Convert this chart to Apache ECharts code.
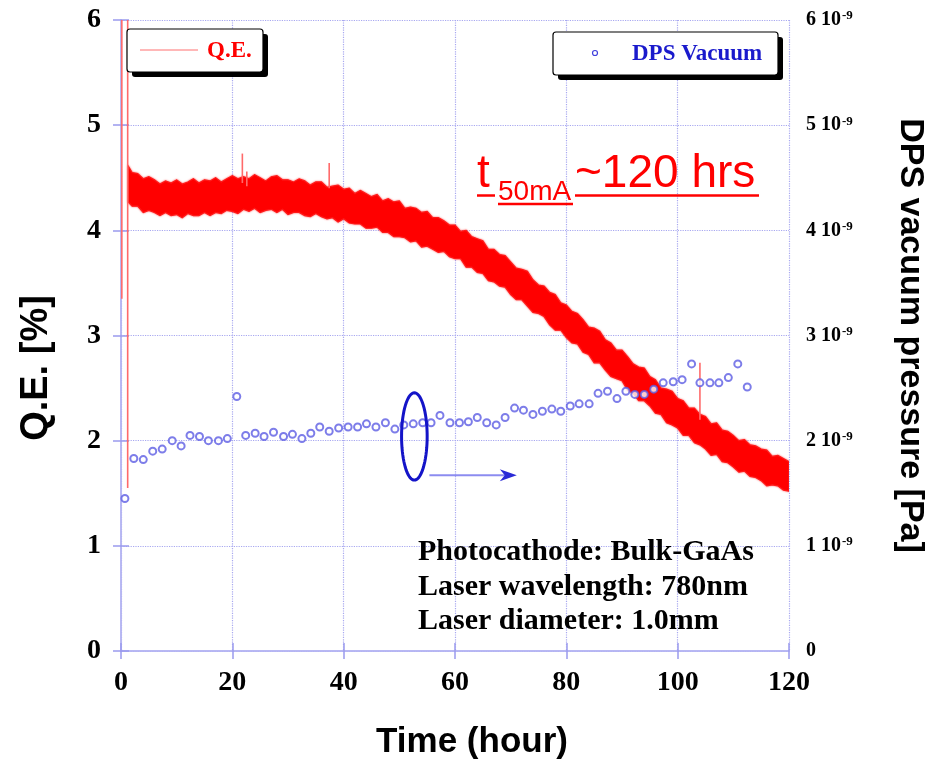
<!DOCTYPE html>
<html>
<head>
<meta charset="utf-8">
<script src="https://cdn.jsdelivr.net/npm/echarts@6/dist/echarts.min.js"></script>
<style>
  html, body { margin: 0; padding: 0; background: #ffffff; }
  #chart { width: 940px; height: 760px; }
</style>
</head>
<body>
<div id="chart"></div>
<script>
// ---- data -------------------------------------------------------------
// Q.E. band (upper / lower envelope of the noisy trace, %), every hour
const qeTime  = [1.3, 2, 3, 4, 5, 6, 7, 8, 9, 10, 11, 12, 13, 14, 15, 16, 17, 18, 19, 20,
                 21, 22, 23, 24, 25, 26, 27, 28, 29, 30, 31, 32, 33, 34, 35, 36, 37, 38, 39, 40,
                 41, 42, 43, 44, 45, 46, 47, 48, 49, 50, 51, 52, 53, 54, 55, 56, 57, 58, 59, 60,
                 61, 62, 63, 64, 65, 66, 67, 68, 69, 70, 71, 72, 73, 74, 75, 76, 77, 78, 79, 80,
                 81, 82, 83, 84, 85, 86, 87, 88, 89, 90, 91, 92, 93, 94, 95, 96, 97, 98, 99, 100,
                 101, 102, 103, 104, 105, 106, 107, 108, 109, 110, 111, 112, 113, 114, 115, 116, 117, 118, 119, 120];
const qeUpper = [4.61, 4.55, 4.54, 4.49, 4.51, 4.48, 4.44, 4.47, 4.45, 4.48, 4.44, 4.46, 4.49, 4.45, 4.48, 4.47, 4.50, 4.46, 4.49, 4.52,
                 4.49, 4.51, 4.49, 4.53, 4.50, 4.47, 4.51, 4.52, 4.48, 4.48, 4.46, 4.49, 4.47, 4.43, 4.46, 4.46, 4.41, 4.42, 4.43, 4.39,
                 4.40, 4.35, 4.38, 4.35, 4.32, 4.34, 4.28, 4.30, 4.27, 4.28, 4.21, 4.22, 4.21, 4.17, 4.18, 4.12, 4.12, 4.09, 4.05, 4.05,
                 3.99, 4.00, 3.94, 3.92, 3.90, 3.82, 3.82, 3.77, 3.76, 3.70, 3.64, 3.63, 3.61, 3.53, 3.48, 3.47, 3.41, 3.39, 3.31, 3.29,
                 3.23, 3.21, 3.15, 3.08, 3.07, 3.04, 2.96, 2.93, 2.86, 2.86, 2.80, 2.73, 2.70, 2.69, 2.61, 2.58, 2.50, 2.49, 2.47, 2.40,
                 2.38, 2.31, 2.31, 2.25, 2.23, 2.16, 2.17, 2.10, 2.09, 2.05, 2.00, 2.01, 1.96, 1.95, 1.92, 1.91, 1.85, 1.86, 1.83, 1.80];
const qeLower = [4.27, 4.23, 4.23, 4.17, 4.19, 4.17, 4.14, 4.17, 4.14, 4.15, 4.12, 4.16, 4.14, 4.14, 4.17, 4.14, 4.17, 4.16, 4.19, 4.18,
                 4.16, 4.20, 4.18, 4.21, 4.17, 4.19, 4.20, 4.17, 4.20, 4.15, 4.17, 4.17, 4.14, 4.13, 4.16, 4.13, 4.11, 4.12, 4.08, 4.11,
                 4.07, 4.06, 4.06, 4.02, 4.02, 4.03, 3.98, 3.98, 3.94, 3.94, 3.93, 3.89, 3.90, 3.84, 3.85, 3.82, 3.79, 3.80, 3.75, 3.73,
                 3.73, 3.65, 3.65, 3.60, 3.59, 3.52, 3.51, 3.47, 3.46, 3.39, 3.34, 3.34, 3.28, 3.22, 3.21, 3.18, 3.10, 3.05, 3.05, 2.98,
                 2.93, 2.92, 2.84, 2.82, 2.74, 2.74, 2.67, 2.61, 2.59, 2.57, 2.48, 2.45, 2.38, 2.38, 2.33, 2.26, 2.25, 2.17, 2.15, 2.12,
                 2.05, 2.05, 1.98, 1.96, 1.92, 1.86, 1.87, 1.80, 1.79, 1.75, 1.70, 1.71, 1.66, 1.65, 1.62, 1.57, 1.58, 1.57, 1.53, 1.52];

// isolated Q.E. spikes: time (h), low and high end (%)
const spikeTime = [0.15, 1.2, 21.8, 22.6, 37.4, 104.0];
const spikeLow  = [3.35, 1.55, 4.45, 4.42, 4.40, 2.20];
const spikeHigh = [6.20, 6.20, 4.73, 4.56, 4.64, 2.74];

// DPS vacuum pressure (Pa)
const dpsTime = [0.7, 2.3, 4.0, 5.7, 7.4, 9.2, 10.8, 12.4, 14.1, 15.7,
                 17.5, 19.1, 20.8, 22.4, 24.1, 25.7, 27.4, 29.2, 30.8, 32.5,
                 34.1, 35.7, 37.4, 39.1, 40.8, 42.5, 44.1, 45.8, 47.5, 49.2,
                 50.8, 52.5, 54.2, 55.7, 57.3, 59.1, 60.8, 62.4, 64.0, 65.7,
                 67.4, 69.0, 70.7, 72.3, 74.0, 75.7, 77.4, 79.0, 80.7, 82.3,
                 84.1, 85.7, 87.4, 89.1, 90.7, 92.3, 94.0, 95.7, 97.4, 99.2,
                 100.8, 102.5, 104.0, 105.8, 107.4, 109.1, 110.8, 112.5];
const dpsPressure = [1.45e-9, 1.83e-9, 1.82e-9, 1.90e-9, 1.92e-9, 2.00e-9, 1.95e-9, 2.05e-9, 2.04e-9, 2.00e-9,
                     2.00e-9, 2.02e-9, 2.42e-9, 2.05e-9, 2.07e-9, 2.04e-9, 2.08e-9, 2.04e-9, 2.06e-9, 2.02e-9,
                     2.07e-9, 2.13e-9, 2.09e-9, 2.12e-9, 2.13e-9, 2.13e-9, 2.16e-9, 2.13e-9, 2.17e-9, 2.11e-9,
                     2.15e-9, 2.16e-9, 2.17e-9, 2.17e-9, 2.24e-9, 2.17e-9, 2.17e-9, 2.18e-9, 2.22e-9, 2.17e-9,
                     2.15e-9, 2.22e-9, 2.31e-9, 2.29e-9, 2.25e-9, 2.28e-9, 2.30e-9, 2.28e-9, 2.33e-9, 2.35e-9,
                     2.35e-9, 2.45e-9, 2.47e-9, 2.40e-9, 2.47e-9, 2.44e-9, 2.44e-9, 2.49e-9, 2.55e-9, 2.56e-9,
                     2.58e-9, 2.73e-9, 2.55e-9, 2.55e-9, 2.55e-9, 2.60e-9, 2.73e-9, 2.51e-9];

// axis ranges
const timeRange = [0, 120, 20];          // min, max, step (h)
const qeRange = [0, 6, 1];               // %
const pressureRange = [0, 6e-9, 1e-9];   // Pa

// ellipse marking the vacuum points and the arrow pointing to the right axis
const ellipseCenter = [52.7, 2.04];      // [h, %]
const ellipseRadius = [2.3, 0.415];      // [h, %]
const arrowFrom = [55.4, 1.67];
const arrowTo = [71.1, 1.67];

// ---- styles -----------------------------------------------------------
const AXIS_COLOR = '#b4b4f2';
const TICK_COLOR = '#9a9aee';
const GRID_COLOR = '#a8a8f0';
const SERIF = '"Liberation Serif", "Times New Roman", serif';
const SANS = '"Liberation Sans", Arial, sans-serif';

const chart = echarts.init(document.getElementById('chart'), null, { renderer: 'canvas' });

const valueAxisBase = {
  type: 'value',
  axisLine: { show: true, lineStyle: { color: AXIS_COLOR, width: 1.5 } },
  axisTick: { show: true, inside: true, length: 8, lineStyle: { color: TICK_COLOR, width: 1.5 } },
  splitLine: { show: false }
};

const option = {
  backgroundColor: '#ffffff',
  animation: false,
  grid: { left: 121, right: 151, top: 20, bottom: 109, containLabel: false },
  xAxis: [
    Object.assign({}, valueAxisBase, {
      min: timeRange[0], max: timeRange[1], interval: timeRange[2],
      axisLabel: { margin: 18, fontFamily: SERIF, fontWeight: 'bold', fontSize: 28, color: '#000' },
      splitLine: { show: true, lineStyle: { color: GRID_COLOR, type: 'dotted', width: 1.2 } }
    }),
    Object.assign({}, valueAxisBase, {
      position: 'top', min: timeRange[0], max: timeRange[1], interval: timeRange[2],
      axisLabel: { show: false }
    })
  ],
  yAxis: [
    Object.assign({}, valueAxisBase, {
      min: qeRange[0], max: qeRange[1], interval: qeRange[2],
      axisLabel: { margin: 20, padding: [10, 0, 0, 0], fontFamily: SERIF, fontWeight: 'bold', fontSize: 28, color: '#000' },
      splitLine: { show: true, lineStyle: { color: GRID_COLOR, type: 'dotted', width: 1.2 } }
    }),
    Object.assign({}, valueAxisBase, {
      position: 'right',
      min: pressureRange[0], max: pressureRange[1], interval: pressureRange[2],
      name: 'DPS vacuum pressure [Pa]', nameLocation: 'middle', nameGap: 104, nameRotate: -90,
      nameTextStyle: { fontFamily: SANS, fontWeight: 'bold', fontSize: 34, color: '#000' },
      axisLabel: {
        margin: 17,
        formatter: function (v) {
          const n = Math.round(v / 1e-9);
          return n === 0 ? '{a|0}' : '{a|' + n + ' 10}{b|-9}';
        },
        rich: {
          a: { fontFamily: SERIF, fontWeight: 'bold', fontSize: 20, color: '#000' },
          b: { fontFamily: SERIF, fontWeight: 'bold', fontSize: 13, color: '#000', verticalAlign: 'top', padding: [0, 0, 8, 1] }
        }
      }
    })
  ],
  series: [
    {
      // noisy Q.E. trace drawn as a filled envelope
      name: 'Q.E.', type: 'custom', xAxisIndex: 0, yAxisIndex: 0, clip: true, silent: true,
      data: [[qeTime[0], qeUpper[0]]],
      renderItem: function (params, api) {
        const pts = [];
        for (let i = 0; i < qeTime.length; i++) pts.push(api.coord([qeTime[i], qeUpper[i]]));
        for (let i = qeTime.length - 1; i >= 0; i--) pts.push(api.coord([qeTime[i], qeLower[i]]));
        return { type: 'polygon', shape: { points: pts },
                 style: { fill: '#ff0000', stroke: '#ff1a1a', lineWidth: 1.2, shadowBlur: 2, shadowColor: 'rgba(255,0,0,0.6)' } };
      },
      z: 3
    },
    {
      name: 'Q.E. spikes', type: 'custom', xAxisIndex: 0, yAxisIndex: 0, clip: true, silent: true,
      data: spikeTime.map((t, i) => [t, spikeLow[i], spikeHigh[i]]),
      renderItem: function (params, api) {
        const a = api.coord([api.value(0), api.value(1)]);
        const b = api.coord([api.value(0), api.value(2)]);
        return { type: 'line', shape: { x1: a[0], y1: a[1], x2: b[0], y2: b[1] },
                 style: { stroke: '#ff6a6a', lineWidth: 1.6 } };
      },
      z: 3
    },
    {
      name: 'DPS Vacuum', type: 'scatter', xAxisIndex: 0, yAxisIndex: 1,
      symbol: 'emptyCircle', symbolSize: 7,
      itemStyle: { color: '#5c5ce4', borderColor: '#5c5ce4', borderWidth: 1.2 },
      data: dpsTime.map((t, i) => [t, dpsPressure[i]]),
      z: 4
    },
    {
      name: 'annotation', type: 'custom', xAxisIndex: 0, yAxisIndex: 0, silent: true,
      data: [[ellipseCenter[0], ellipseCenter[1]]],
      renderItem: function (params, api) {
        const c = api.coord(ellipseCenter);
        const r = api.size(ellipseRadius);
        const ring = [];
        for (let k = 0; k <= 72; k++) {
          const a = k / 72 * Math.PI * 2;
          ring.push([c[0] + r[0] * Math.cos(a), c[1] + r[1] * Math.sin(a)]);
        }
        const p0 = api.coord(arrowFrom);
        const p1 = api.coord(arrowTo);
        return {
          type: 'group',
          children: [
            { type: 'polyline', shape: { points: ring }, style: { stroke: '#1414c8', lineWidth: 3, fill: null } },
            { type: 'line', shape: { x1: p0[0], y1: p0[1], x2: p1[0] - 10, y2: p1[1] },
              style: { stroke: '#8c8cf0', lineWidth: 2 } },
            { type: 'polygon',
              shape: { points: [[p1[0], p1[1]], [p1[0] - 17, p1[1] - 6], [p1[0] - 12, p1[1]], [p1[0] - 17, p1[1] + 6]] },
              style: { fill: '#2a2ad6' } }
          ]
        };
      },
      z: 5
    }
  ],
  graphic: [
    // axis titles
    { type: 'text', x: 37, y: 368, rotation: Math.PI / 2,
      style: { text: 'Q.E. [%]', fill: '#000', font: 'bold 38px ' + SANS, align: 'center', verticalAlign: 'middle' }, z: 12 },
    { type: 'text', x: 472, y: 742,
      style: { text: 'Time (hour)', fill: '#000', font: 'bold 35px ' + SANS, align: 'center', verticalAlign: 'middle' }, z: 12 },
    // Q.E. legend box
    { type: 'rect', shape: { x: 132, y: 34, width: 136, height: 43, r: 3 }, style: { fill: '#000' }, z: 10 },
    { type: 'rect', shape: { x: 127, y: 29, width: 136, height: 43, r: 3 }, style: { fill: '#fff', stroke: '#000', lineWidth: 1.2 }, z: 11 },
    { type: 'line', shape: { x1: 140, y1: 50, x2: 198, y2: 50 }, style: { stroke: '#ff7070', lineWidth: 1 }, z: 12 },
    { type: 'text', x: 207, y: 51, style: { text: 'Q.E.', fill: '#ff0000', font: 'bold 23px ' + SERIF, verticalAlign: 'middle' }, z: 12 },
    // DPS legend box
    { type: 'rect', shape: { x: 558, y: 37, width: 225, height: 43, r: 3 }, style: { fill: '#000' }, z: 10 },
    { type: 'rect', shape: { x: 553, y: 32, width: 225, height: 43, r: 3 }, style: { fill: '#fff', stroke: '#000', lineWidth: 1.2 }, z: 11 },
    { type: 'circle', shape: { cx: 595, cy: 53, r: 2.5 }, style: { fill: null, stroke: '#4040dd', lineWidth: 1.2 }, z: 12 },
    { type: 'text', x: 632, y: 54, style: { text: 'DPS Vacuum', fill: '#1a1acc', font: 'bold 23px ' + SERIF, verticalAlign: 'middle' }, z: 12 },
    // lifetime label
    { type: 'text', x: 477, y: 174, style: { text: 't', fill: '#ff0000', font: '46px ' + SANS, verticalAlign: 'middle' }, z: 12 },
    { type: 'text', x: 498, y: 192, style: { text: '50mA', fill: '#ff0000', font: '28px ' + SANS, verticalAlign: 'middle' }, z: 12 },
    { type: 'text', x: 575, y: 174, style: { text: '~120 hrs', fill: '#ff0000', font: '46px ' + SANS, verticalAlign: 'middle' }, z: 12 },
    { type: 'line', shape: { x1: 477, y1: 195.5, x2: 495, y2: 195.5 }, style: { stroke: '#ff0000', lineWidth: 2.5 }, z: 12 },
    { type: 'line', shape: { x1: 498, y1: 204, x2: 573, y2: 204 }, style: { stroke: '#ff0000', lineWidth: 2.5 }, z: 12 },
    { type: 'line', shape: { x1: 575, y1: 195.5, x2: 759, y2: 195.5 }, style: { stroke: '#ff0000', lineWidth: 2.5 }, z: 12 },
    // measurement conditions
    { type: 'text', x: 418, y: 552, style: { text: 'Photocathode: Bulk-GaAs', fill: '#000', font: 'bold 30px ' + SERIF, verticalAlign: 'middle' }, z: 12 },
    { type: 'text', x: 418, y: 587, style: { text: 'Laser wavelength: 780nm', fill: '#000', font: 'bold 30px ' + SERIF, verticalAlign: 'middle' }, z: 12 },
    { type: 'text', x: 418, y: 621, style: { text: 'Laser diameter: 1.0mm', fill: '#000', font: 'bold 30px ' + SERIF, verticalAlign: 'middle' }, z: 12 }
  ]
};

chart.setOption(option);
</script>
</body>
</html>
